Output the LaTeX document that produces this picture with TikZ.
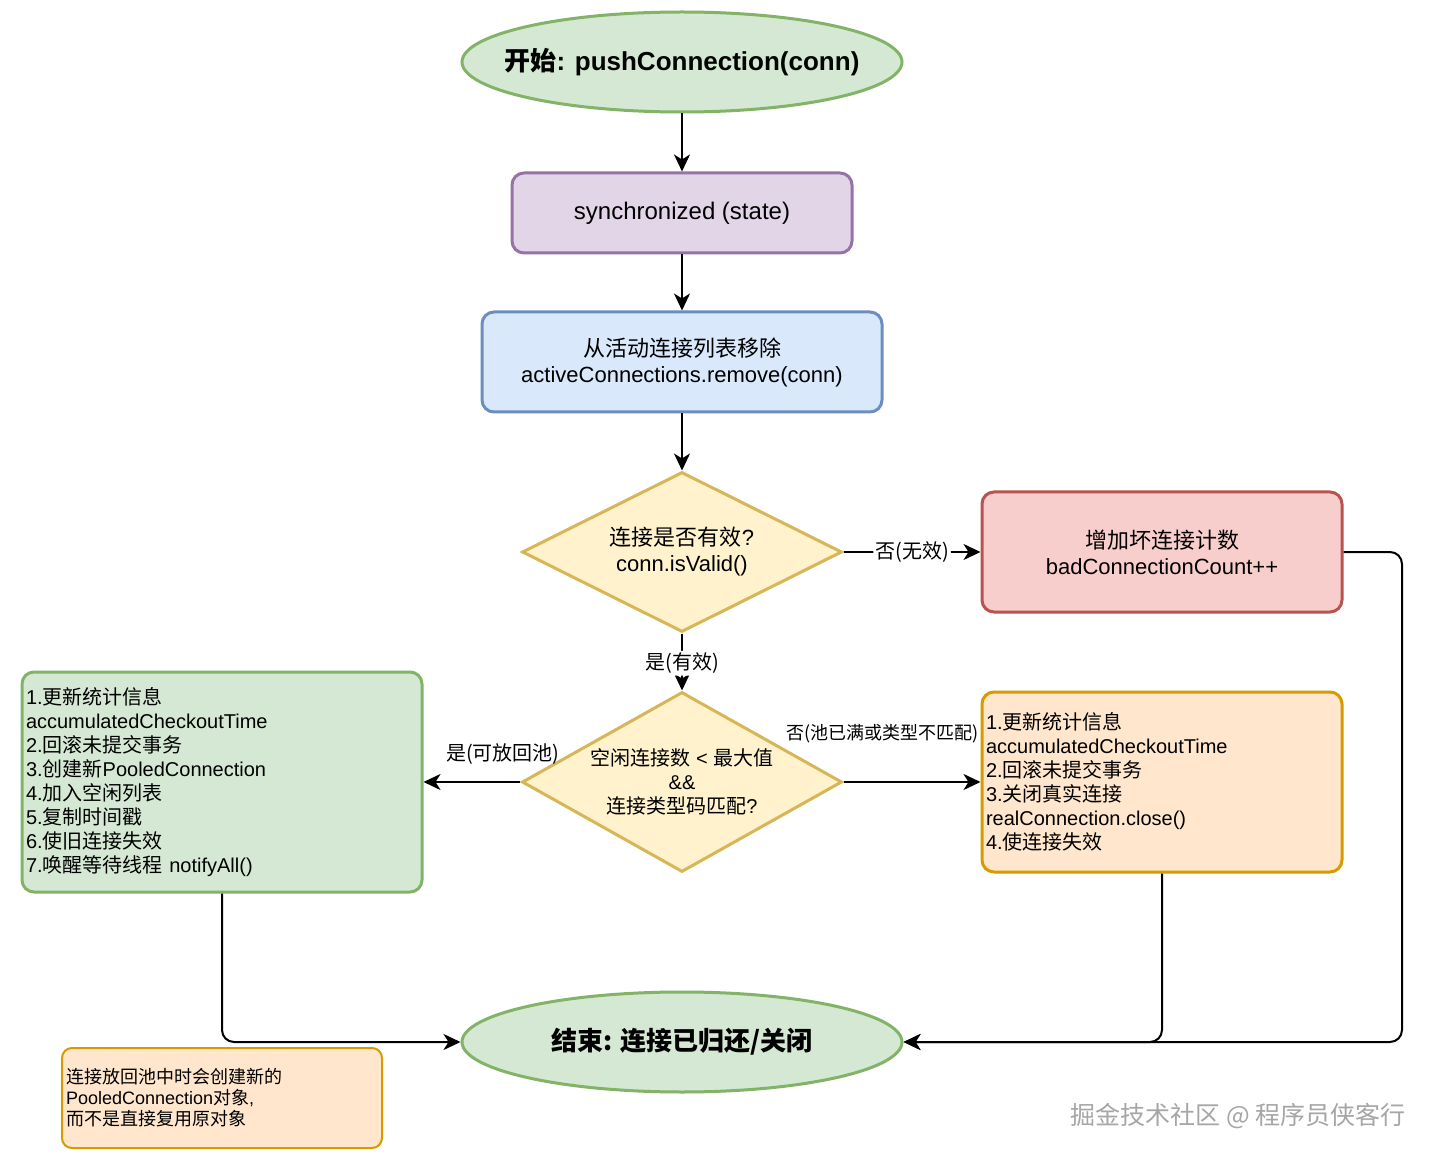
\documentclass[tikz,border=0pt]{standalone}
\usepackage{fontspec}
\setmainfont{Liberation Sans}
\newfontfamily\cjk{Noto Sans CJK SC}
\newcommand\zh[1]{{\cjk #1}}
\usetikzlibrary{shapes.geometric,arrows.meta}
\definecolor{gfill}{HTML}{D5E8D4}\definecolor{gline}{HTML}{82B366}
\definecolor{pfill}{HTML}{E1D5E7}\definecolor{pline}{HTML}{9673A6}
\definecolor{bfill}{HTML}{DAE8FC}\definecolor{bline}{HTML}{6C8EBF}
\definecolor{yfill}{HTML}{FFF2CC}\definecolor{yline}{HTML}{D6B656}
\definecolor{rfill}{HTML}{F8CECC}\definecolor{rline}{HTML}{B85450}
\definecolor{ofill}{HTML}{FFE6CC}\definecolor{oline}{HTML}{D79B00}
\begin{document}
\begin{tikzpicture}[x=0.5pt,y=-0.5pt,
  box/.style={rectangle, rounded corners=6pt, line width=1.5pt, inner sep=2pt, align=center,
    font=\fontsize{11}{13}\selectfont},
  listbox/.style={rectangle, rounded corners=6pt, line width=1.5pt, inner sep=2pt, align=left,
    font=\fontsize{10}{12}\selectfont},
  term/.style={ellipse, draw=gline, fill=gfill, line width=1.5pt, minimum width=220pt,
    minimum height=50pt, inner sep=0pt, font=\fontsize{13}{15}\selectfont\bfseries},
  dec/.style={diamond, draw=yline, fill=yfill, line width=1.5pt, inner sep=0pt, align=center},
  arr/.style={line width=1pt, -{Stealth[length=8.5pt,width=8pt,inset=2.5pt]}, rounded corners=6pt},
  lab/.style={fill=white, inner sep=1pt, font=\fontsize{10}{12}\selectfont}
]
\useasboundingbox (0,0) rectangle (1435,1160);
\fill[white] (0,0) rectangle (1435,1160);

\node[term] (start) at (682,62) {\makebox[0pt][c]{\zh{开始}: pushConnection(conn)}};
\node[box, draw=pline, fill=pfill, minimum width=170pt, minimum height=40pt,
  font=\fontsize{12}{14}\selectfont] (sync) at (682,213) {synchronized (state)};
\node[box, draw=bline, fill=bfill, minimum width=200pt, minimum height=50pt] (remove) at (682,362)
  {\zh{从活动连接列表移除}\\activeConnections.remove(conn)};
\node[dec, aspect=2, minimum width=160pt, minimum height=80pt, font=\fontsize{11}{13}\selectfont] (valid) at (682,552)
  {\zh{连接是否有效}?\\conn.isValid()};
\node[box, draw=rline, fill=rfill, minimum width=180pt, minimum height=60pt] (bad) at (1162,552)
  {\zh{增加坏连接计数}\\badConnectionCount++};
\node[dec, aspect=1.78, minimum width=160pt, minimum height=90pt, font=\fontsize{10}{12}\selectfont] (pool) at (682,782)
  {\zh{空闲连接数} < \zh{最大值}\\\&\&\\\zh{连接类型码匹配}?};
\node[listbox, draw=gline, fill=gfill, text width=196pt, minimum height=110pt] (ret) at (222,782)
  {1.\zh{更新统计信息}\\accumulatedCheckoutTime\\2.\zh{回滚未提交事务}\\3.\zh{创建新}PooledConnection\\4.\zh{加入空闲列表}\\5.\zh{复制时间戳}\\6.\zh{使旧连接失效}\\7.\zh{唤醒等待线程} notifyAll()};
\node[listbox, draw=oline, fill=ofill, text width=176pt, minimum height=90pt] (close) at (1162,782)
  {1.\zh{更新统计信息}\\accumulatedCheckoutTime\\2.\zh{回滚未提交事务}\\3.\zh{关闭真实连接}\\realConnection.close()\\4.\zh{使连接失效}};
\node[term] (end) at (682,1042) {\makebox[0pt][c]{\zh{结束: 连接已归还/关闭}}};
\node[rectangle, rounded corners=5pt, draw=oline, fill=ofill, line width=1pt, inner sep=2pt,
  text width=156pt, minimum height=50pt, align=left, font=\fontsize{9}{10.5}\selectfont] (note) at (222,1098)
  {\zh{连接放回池中时会创建新的}\\PooledConnection\zh{对象},\\\zh{而不是直接复用原对象}};
\node[text=black!35, font=\fontsize{12.5}{15}\selectfont\cjk] (wm) at (1238,1116) {掘金技术社区 @ 程序员侠客行};

\coordinate (rc) at (1402,1042);

\draw[arr] (start) -- (sync);
\draw[arr] (sync) -- (remove);
\draw[arr] (remove) -- (valid);
\draw[arr] (valid) -- node[lab]{\zh{否(无效)}} (bad);
\draw[arr] (valid) -- node[lab, pos=0.52]{\zh{是(有效)}} (pool);
\draw[arr] (pool) -- (ret);
\node[lab, anchor=south east, fill=none] (lyes) at (562,767) {\zh{是(可放回池)}};
\draw[arr] (pool) -- (close);
\node[lab, anchor=south east, fill=none, font=\fontsize{9}{11}\selectfont] (lno) at (981,745) {\zh{否(池已满或类型不匹配)}};
\draw[arr] (ret.south) |- (end.west);
\draw[arr] (close.south) |- (end.east);
\draw[arr] (bad.east) -| (rc) -- (end.east);
\end{tikzpicture}
\end{document}
